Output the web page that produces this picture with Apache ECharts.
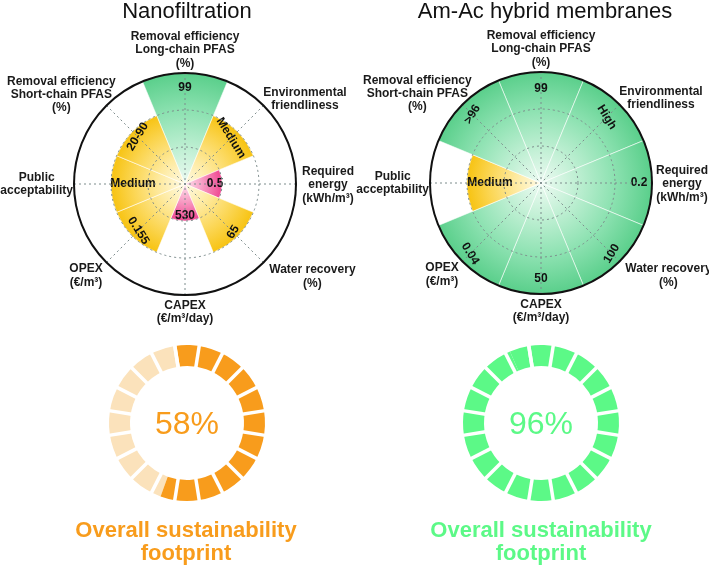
<!DOCTYPE html>
<html><head><meta charset="utf-8">
<script src="https://cdn.jsdelivr.net/npm/echarts@6/dist/echarts.min.js"></script>
<style>html,body{margin:0;padding:0;background:#fff}#c{width:709px;height:569px}</style>
</head><body><div id="c"></div>
<script>
// ---------- data ----------
const categories = [
  'Removal efficiency\nLong-chain PFAS\n(%)',
  'Environmental\nfriendliness',
  'Required\nenergy\n(kWh/m³)',
  'Water recovery\n(%)',
  'CAPEX\n(€/m³/day)',
  'OPEX\n(€/m³)',
  'Public\nacceptability',
  'Removal efficiency\nShort-chain PFAS\n(%)'
];
const titles = ['Nanofiltration', 'Am-Ac hybrid membranes'];
// score per criterion: 3 = good, 2 = medium, 1 = poor
const nfScores = [3, 2, 1, 2, 1, 2, 2, 2];
const nfValueLabels = ['99', 'Medium', '0.5', '65', '530', '0.155', 'Medium', '20-90'];
const amScores = [3, 3, 3, 3, 3, 3, 2, 3];
const amValueLabels = ['99', 'High', '0.2', '100', '50', '0.04', 'Medium', '>96'];
const scoreMax = 3;
const footprint = [58, 96];
const footprintLabel = 'Overall sustainability\nfootprint';

// ---------- styles / layout ----------
const FONT = '"Liberation Sans", Arial, Helvetica, sans-serif';
const polarCenters = [[185, 184], [541, 183]];
const R = 111;
const labelRotate = [0, -45, 0, 45, 0, -45, 0, 45];
const labelDist = [
  [15, 9, 7, 6, 5.5, 8, 22, 7],
  [17, 18, 13, 11, 15, 11, 23, 14]
];
const catPad = [
  [[0,0,16,0],[0,0,2,9],[2,0,0,19],[10,0,0,15],[17,0,0,0],[9,13,0,0],[0,14,0,0],[0,0,0,0]],
  [[0,0,16,0],[0,0,2,9],[2,0,0,17],[10,0,0,15],[17,0,0,0],[9,13,0,0],[0,14,0,0],[0,0,0,0]]
];
const gaugeCenters = [[187, 423], [541, 423]];
const mainColors = ['#f89c1c', '#5cf987'];
const restColors = ['#fbe2bb', '#5cf987'];
const titleX = [187, 545];
const footX = [186, 541];
const levelStops = {
  3: [[0, '#eefbf3'], [0.3, '#c2f0d5'], [0.65, '#8ee2b2'], [1, '#5acf8b']],
  2: [[0, '#fffbe6'], [0.35, '#feeaa0'], [0.7, '#fbd654'], [1, '#f7c312']],
  1: [[0, '#fde0ec'], [0.4, '#f9a9cb'], [1, '#ef4892']]
};
const dotted = {color: '#7d8c8c', width: 1, type: [2, 3]};

const chart = echarts.init(document.getElementById('c'), null, {renderer: 'canvas'});

const scoresList = [nfScores, amScores];
const labelsList = [nfValueLabels, amValueLabels];

function buildOption(gradFn) {
  const polar = [], angleAxis = [], radiusAxis = [], series = [];
  for (let i = 0; i < 2; i++) {
    polar.push({center: polarCenters[i], radius: R});
    polar.push({center: polarCenters[i], radius: R});
    angleAxis.push({
      polarIndex: 2 * i, type: 'category', startAngle: 112.5, clockwise: true, boundaryGap: true,
      data: categories.map((c, k) => ({value: c, textStyle: {padding: catPad[i][k]}})),
      axisLine: {show: true, lineStyle: {color: '#111', width: 2}},
      axisTick: {show: false}, splitLine: {show: false},
      axisLabel: {
        show: true, interval: 0, margin: -13,
        formatter: v => v.split('\n').map(s => '{c|' + s + '}').join('\n'),
        rich: {c: {align: 'center', fontSize: 12, fontWeight: 'bold', lineHeight: 13.3, fontFamily: FONT, color: '#1a1a1a'}}
      },
      z: 6
    });
    angleAxis.push({
      polarIndex: 2 * i + 1, type: 'value', min: 0, max: 360, interval: 45, startAngle: 90,
      axisLine: {show: false}, axisTick: {show: false}, axisLabel: {show: false},
      splitLine: {show: true, lineStyle: dotted}, z: 5
    });
    radiusAxis.push({
      polarIndex: 2 * i, type: 'value', min: 0, max: scoreMax, interval: 1,
      axisLine: {show: false}, axisTick: {show: false}, axisLabel: {show: false},
      splitLine: {show: true, lineStyle: dotted}, z: 5
    });
    radiusAxis.push({
      polarIndex: 2 * i + 1, type: 'value', min: 0, max: 1,
      axisLine: {show: false}, axisTick: {show: false}, axisLabel: {show: false},
      splitLine: {show: false}
    });
    const sc = scoresList[i], lb = labelsList[i];
    series.push({
      type: 'bar', coordinateSystem: 'polar', polarIndex: 2 * i, barCategoryGap: '0%',
      data: sc.map((v, k) => ({
        value: v,
        itemStyle: {color: gradFn ? gradFn(i, v) : levelStops[v][levelStops[v].length - 1][1]},
        label: {rotate: labelRotate[k], distance: labelDist[i][k]}
      })),
      itemStyle: {borderColor: 'rgba(255,255,255,0.55)', borderWidth: 1},
      label: {
        show: true, position: 'insideEnd', align: 'center', verticalAlign: 'middle',
        fontSize: 12, fontWeight: 'bold', color: '#111', fontFamily: FONT,
        formatter: p => lb[p.dataIndex]
      },
      z: 2
    });
    series.push({
      type: 'gauge', center: gaugeCenters[i], radius: 78, startAngle: 99, endAngle: -261,
      min: 0, max: 100, splitNumber: 20,
      axisLine: {show: true, lineStyle: {width: 21, color: [[footprint[i] / 100, mainColors[i]], [1, restColors[i]]]}},
      progress: {show: false}, pointer: {show: false}, anchor: {show: false},
      axisTick: {show: false}, axisLabel: {show: false},
      splitLine: {show: true, distance: -22, length: 23, lineStyle: {color: '#fff', width: 3.5}},
      title: {show: false},
      detail: {show: true, formatter: '{value}%', offsetCenter: [0, 2], fontSize: 32, fontWeight: 'normal',
               color: mainColors[i], fontFamily: FONT},
      data: [{value: footprint[i]}]
    });
  }
  const title = [];
  for (let i = 0; i < 2; i++) {
    title.push({text: titles[i], left: titleX[i], top: 1, textAlign: 'center', padding: 0,
      textStyle: {fontSize: 22, fontWeight: 'normal', color: '#111', fontFamily: FONT}});
    title.push({text: footprintLabel, left: footX[i], top: 519, textAlign: 'center', padding: 0,
      textStyle: {fontSize: 22, fontWeight: 'bold', color: mainColors[i], fontFamily: FONT, lineHeight: 23}});
  }
  return {animation: false, backgroundColor: '#fff', title, polar, angleAxis, radiusAxis, series};
}

chart.setOption(buildOption(null));

// radial gradients from the polar center out to each bar's own radius (via the axis scales)
function gradFn(i, v) {
  const c = chart.convertToPixel({polarIndex: 2 * i}, [0, 0]);
  const p = chart.convertToPixel({polarIndex: 2 * i}, [v, 0]);
  const r = Math.hypot(p[0] - c[0], p[1] - c[1]);
  return {type: 'radial', x: c[0], y: c[1], r: r, global: true,
    colorStops: levelStops[v].map(s => ({offset: s[0], color: s[1]}))};
}
chart.setOption(buildOption(gradFn), true);
</script>
</body></html>
